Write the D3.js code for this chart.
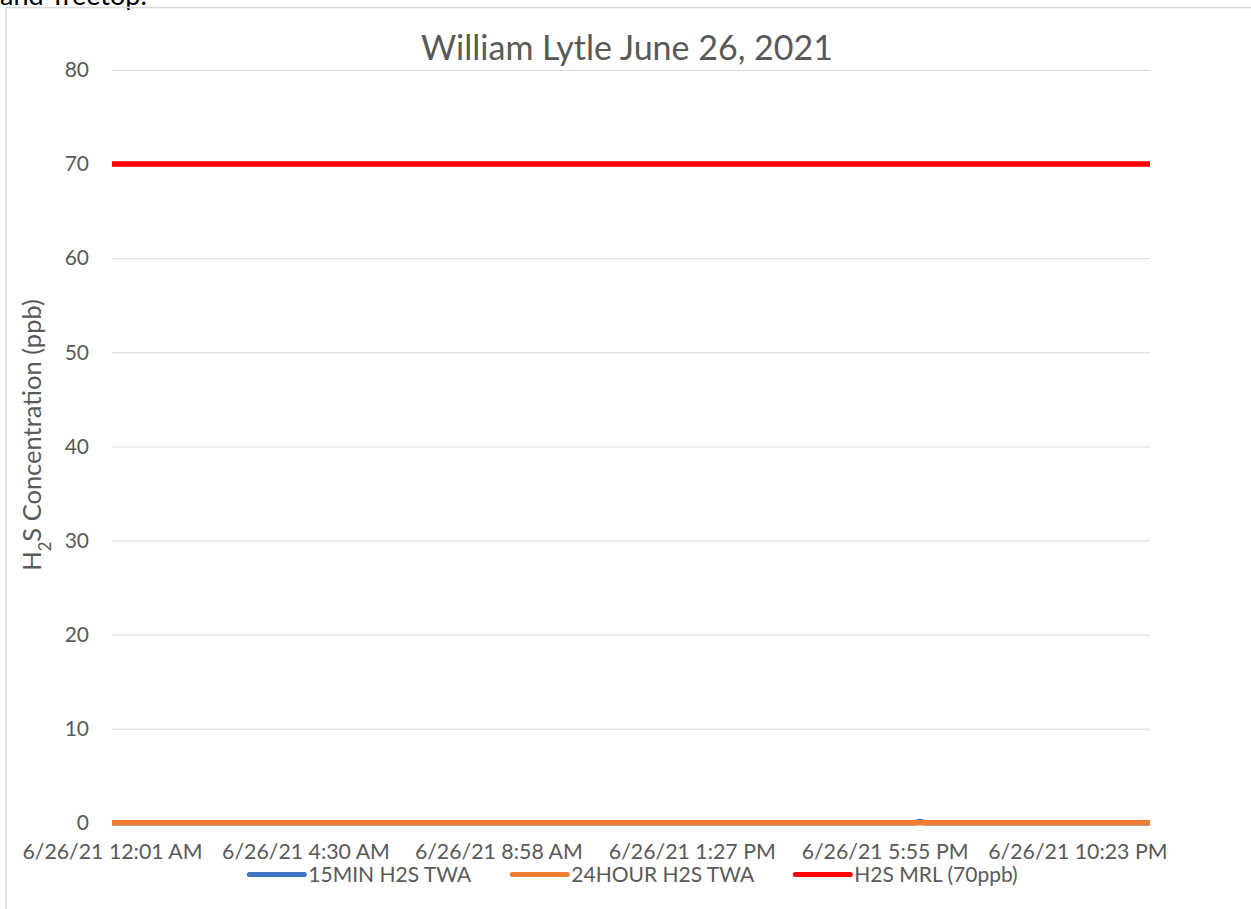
<!DOCTYPE html>
<html>
<head>
<meta charset="utf-8">
<script src="https://cdn.jsdelivr.net/npm/d3@7"></script>
<style>
  html, body { margin: 0; padding: 0; background: #fff; }
  svg { display: block; }
  text { font-family: Lato, "Open Sans", sans-serif; fill: #595959; }
</style>
</head>
<body>
<svg id="chart" width="1251" height="909"></svg>
<script>
// ---------------- data ----------------
const chartTitle = "William Lytle June 26, 2021";
const yTicks = [0, 10, 20, 30, 40, 50, 60, 70, 80];
const xTickLabels = ["6/26/21 12:01 AM", "6/26/21 4:30 AM", "6/26/21 8:58 AM",
                     "6/26/21 1:27 PM", "6/26/21 5:55 PM", "6/26/21 10:23 PM"];
const seriesNames = ["15MIN H2S TWA", "24HOUR H2S TWA", "H2S MRL (70ppb)"];
const seriesColors = ["#4472C4", "#ED7D31", "#FF0000"];
// readings (breakpoints of the recorded series; flat between them)
const min15Times  = ["6/26/21 12:01 AM", "6/26/21 6:36 PM", "6/26/21 6:44 PM", "6/26/21 6:52 PM", "6/27/21 12:04 AM"];
const min15Values = [0, 0, 0.15, 0, 0];
const hour24Times  = ["6/26/21 12:01 AM", "6/27/21 12:04 AM"];
const hour24Values = [0, 0];
const mrlTimes  = ["6/26/21 12:01 AM", "6/27/21 12:04 AM"];
const mrlValues = [70, 70];

// ---------------- layout ----------------
const parse = d3.timeParse("%m/%d/%y %I:%M %p");
const svg = d3.select("#chart");
const plot = { left: 112, right: 1150, top: 70, bottom: 822.8 };
const FONT = "Lato, 'Open Sans', sans-serif";

const x = d3.scaleTime()
  .domain([parse(min15Times[0]), parse(min15Times[min15Times.length - 1])])
  .range([plot.left, plot.right]);
const y = d3.scaleLinear().domain([0, 80]).range([plot.bottom, plot.top]);

// cropped caption text above the chart (cut by the page edge in the original)
svg.append("text").attr("x", 0).attr("y", 5)
  .style("font-size", "27px").style("fill", "#000").text("and Treetop.");

// chart frame
svg.append("rect").attr("x", 6).attr("y", 7.5).attr("width", 1300).attr("height", 1000)
  .attr("fill", "none").attr("stroke", "#d9d9d9").attr("stroke-width", 1.5);

// gridlines + y labels via axis
const yAxis = d3.axisLeft(y).tickValues(yTicks).tickSize(-(plot.right - plot.left)).tickPadding(23);
const yg = svg.append("g").attr("transform", `translate(${plot.left},0)`).call(yAxis);
yg.select(".domain").remove();
yg.selectAll(".tick line").attr("stroke", "#d9d9d9").attr("stroke-width", 1);
yg.selectAll(".tick text").style("font-size", "21px").style("font-family", FONT).attr("fill", "#595959");

// x labels via axis
const xAxis = d3.axisBottom(x).tickValues(xTickLabels.map(parse))
  .tickFormat((d, i) => xTickLabels[i]).tickSize(0).tickPadding(21);
const xg = svg.append("g").attr("transform", `translate(0,${plot.bottom})`).call(xAxis);
xg.select(".domain").remove();
xg.selectAll(".tick text").style("font-size", "21.3px").style("font-family", FONT).attr("fill", "#595959");

// series
const line = d3.line().x(d => x(d.t)).y(d => y(d.v));
const series = [
  { times: min15Times, values: min15Values },
  { times: hour24Times, values: hour24Values },
  { times: mrlTimes, values: mrlValues }
];
series.forEach((s, i) => {
  const pts = s.times.map((t, j) => ({ t: parse(t), v: s.values[j] }));
  svg.append("path").datum(pts).attr("d", line)
    .attr("fill", "none").attr("stroke", seriesColors[i]).attr("stroke-width", 5.5)
    .attr("stroke-linejoin", "round");
});

// title
svg.append("text").attr("x", 627).attr("y", 60).attr("text-anchor", "middle")
  .style("font-size", "34px").text(chartTitle);

// y-axis title with subscript
const yt = svg.append("text").attr("transform", "translate(41,435) rotate(-90)")
  .attr("text-anchor", "middle").style("font-size", "25.5px");
yt.append("tspan").text("H");
yt.append("tspan").attr("baseline-shift", "sub").style("font-size", "16.5px").text("2");
yt.append("tspan").text("S Concentration (ppb)");

// legend
const legend = svg.append("g");
const lineLen = 55, textGap = 4, itemGap = 41;
let cx = 0;
seriesNames.forEach((name, i) => {
  const g = legend.append("g");
  g.append("line").attr("x1", 0).attr("x2", lineLen).attr("y1", 0).attr("y2", 0)
    .attr("stroke", seriesColors[i]).attr("stroke-width", 5).attr("stroke-linecap", "round");
  const t = g.append("text").attr("x", lineLen + textGap).attr("y", 7.5).style("font-size", "21px").text(name);
  const w = lineLen + textGap + t.node().getComputedTextLength();
  g.attr("transform", `translate(${cx},0)`);
  cx += w + itemGap;
});
const totalW = cx - itemGap;
legend.attr("transform", `translate(${633.5 - totalW / 2},874.5)`);
</script>
</body>
</html>
